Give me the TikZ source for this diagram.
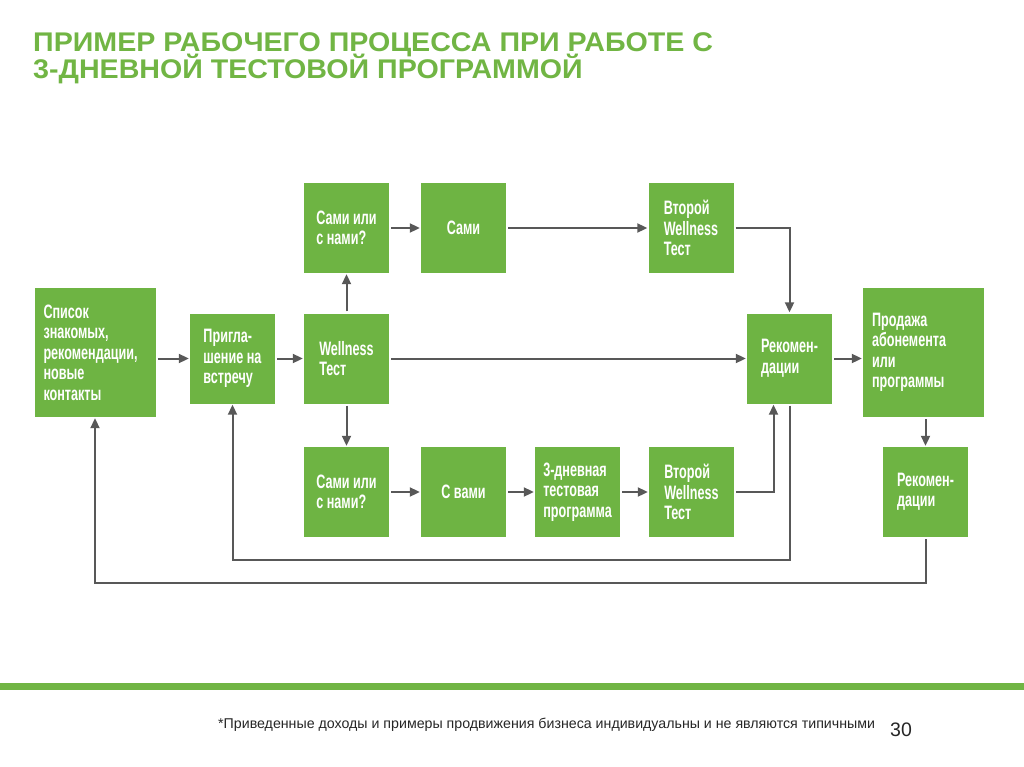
\documentclass[tikz,border=0pt]{standalone}
\usepackage{fontspec}
\setmainfont{Liberation Sans}
\newfontfamily\narrowfont{Liberation Sans}[FakeStretch=0.65]
\newfontfamily\widefont{Liberation Sans}[FakeStretch=1.06]
\usetikzlibrary{arrows.meta,positioning}

\begin{document}
\begin{tikzpicture}[x=1pt, y=-1pt,
    box/.style={fill=boxgreen, text=white, minimum width=85pt, minimum height=90pt, inner sep=0pt, align=left,
        font=\narrowfont\bfseries\fontsize{19.4}{20.5}\selectfont},
    bigbox/.style={box, minimum width=121pt, minimum height=129pt, inner xsep=9pt, text width=103pt},
    conn/.style={draw=linegray, line width=2pt, shorten <=2pt, shorten >=1pt, -{Triangle[length=10pt,width=9pt]}},
    title/.style={text=titlegreen, inner sep=0pt, font=\widefont\bfseries\fontsize{27}{28}\selectfont}]
        \definecolor{boxgreen}{RGB}{110,180,67}
        \definecolor{titlegreen}{RGB}{113,181,68}
        \definecolor{linegray}{RGB}{88,88,88}
        \useasboundingbox (0,0) rectangle (1024,767);

        % Title
        \node[title, anchor=base west] (title1) at (33,52) {ПРИМЕР РАБОЧЕГО ПРОЦЕССА ПРИ РАБОТЕ С};
        \node[title, anchor=base west] (title2) at (33,79) {3-ДНЕВНОЙ ТЕСТОВОЙ ПРОГРАММОЙ};

        % Boxes
        \node[bigbox] (spisok) at (95,352.5) {Список\\знакомых,\\рекомендации,\\новые\\контакты};
        \node[box] (prigl) at (232.5,358.5) {Пригла-\\шение на\\встречу};
        \node[box] (wellness) at (346.5,358.5) {Wellness\\Тест};
        \node[box] (samiup) at (346.5,228) {Сами или\\с нами?};
        \node[box] (sami) at (463.5,228) {Сами};
        \node[box] (vtoroyup) at (691,228) {Второй\\Wellness\\Тест};
        \node[box] (rekom) at (789.5,358.5) {Рекомен-\\дации};
        \node[bigbox] (prodazha) at (923.5,352.5) {Продажа\\абонемента\\или\\программы};
        \node[box] (samidown) at (346.5,492) {Сами или\\с нами?};
        \node[box] (svami) at (463.5,492) {С вами};
        \node[box] (trehdn) at (577.5,492) {3-дневная\\тестовая\\программа};
        \node[box] (vtoroydown) at (691.5,492) {Второй\\Wellness\\Тест};
        \node[box] (rekomdown) at (925.5,492) {Рекомен-\\дации};
        \coordinate (rekomin) at ([xshift=-16pt]rekom.south);

        % Arrows
        \draw[conn] (spisok.east |- prigl) -- (prigl);
        \draw[conn] (prigl) -- (wellness);
        \draw[conn] (wellness) -- (samiup);
        \draw[conn] (wellness) -- (samidown);
        \draw[conn] (samiup) -- (sami);
        \draw[conn] (sami) -- (vtoroyup);
        \draw[conn] (vtoroyup.east) -| (rekom.north);
        \draw[conn] (wellness) -- (rekom);
        \draw[conn] (rekom) -- (rekom -| prodazha.west);
        \draw[conn] (samidown) -- (svami);
        \draw[conn] (svami) -- (trehdn);
        \draw[conn] (trehdn) -- (vtoroydown);
        \draw[conn] (vtoroydown.east) -| (rekomin);
        \draw[conn] (prodazha.south -| rekomdown.north) -- (rekomdown.north);
        \draw[conn] (rekom.south) -- ++(0,156) -| (prigl.south);
        \draw[conn] (rekomdown.south) -- ++(0,46) -| (spisok.south);

        % Footer
        \fill[titlegreen] (0,683) rectangle (1024,690);
        \node[anchor=base west, inner sep=0pt, text=black!85, font=\fontsize{14.2}{16}\selectfont] (note) at (218,728) {*Приведенные доходы и примеры продвижения бизнеса индивидуальны и не являются типичными};
        \node[anchor=base west, inner sep=0pt, text=black!85, font=\fontsize{19.5}{20}\selectfont] (pagenum) at (890,736) {30};
    \end{tikzpicture}
\end{document}
